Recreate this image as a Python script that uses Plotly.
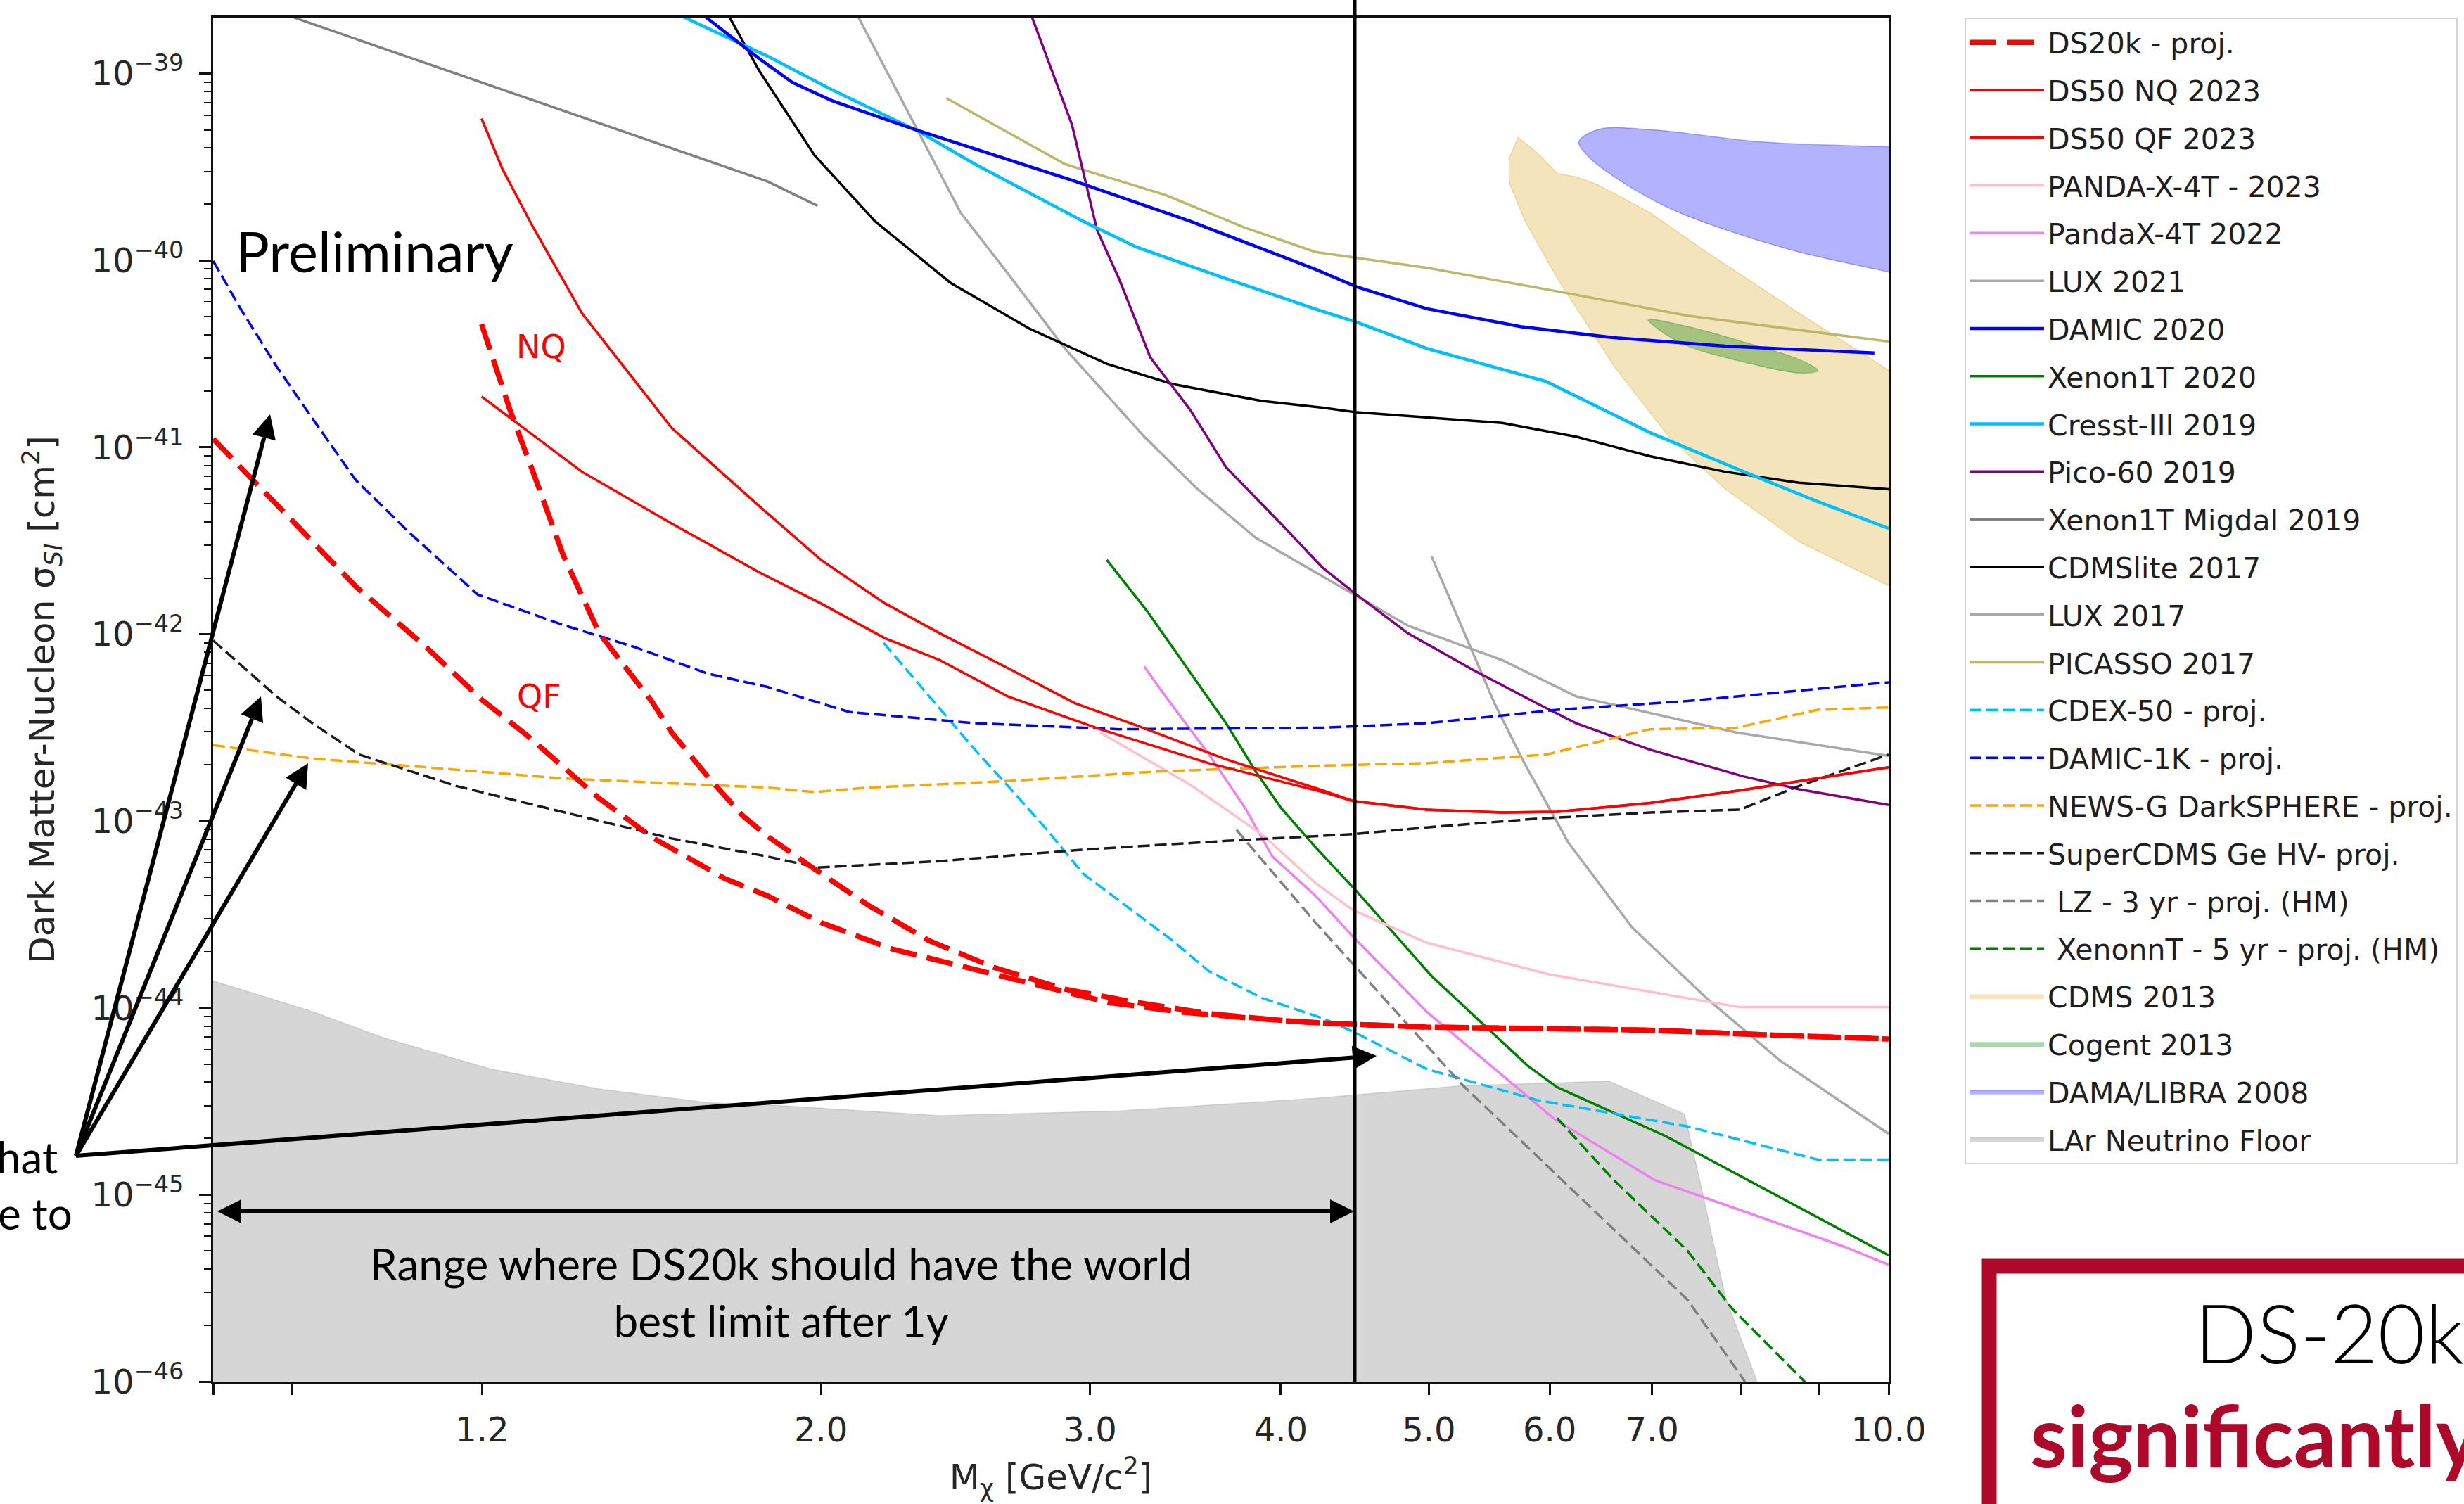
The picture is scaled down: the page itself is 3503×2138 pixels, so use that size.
import math
import plotly.graph_objects as go

# ------------------------------------------------------------------
# Spin-independent DM-nucleon limits, low-mass region
# masses in GeV/c^2, cross sections in cm^2
# ------------------------------------------------------------------

# DarkSide-20k projections (two quenching models)
ds20k_qf_mass = [0.80, 0.894, 0.992, 1.104, 1.199, 1.285, 1.432, 1.552, 1.730, 1.845, 2.0, 2.229,
                 2.486, 2.766, 3.083, 3.438, 3.824, 4.256, 4.986, 5.898, 6.977, 8.255, 10.0]
ds20k_qf_xs = [1.11e-41, 4.31e-42, 1.80e-42, 8.47e-43, 4.47e-43, 2.86e-43, 1.32e-43, 8.15e-44, 4.92e-44,
               3.98e-44, 2.86e-44, 2.06e-44, 1.65e-44, 1.32e-44, 1.07e-44, 9.51e-45, 8.81e-45, 8.30e-45,
               7.89e-45, 7.76e-45, 7.60e-45, 7.19e-45, 6.81e-45]
ds20k_nq_mass = [1.199, 1.252, 1.299, 1.356, 1.432, 1.549, 1.597, 1.686, 1.777, 1.845, 1.981, 2.147,
                 2.354, 2.594, 2.889, 3.218, 3.588, 4.0, 4.256, 4.986, 5.898, 6.977, 8.255, 10.0]
ds20k_nq_xs = [4.56e-41, 1.57e-41, 6.98e-42, 2.65e-42, 1.01e-42, 4.39e-43, 2.98e-43, 1.73e-43, 1.07e-43,
               8.30e-44, 5.53e-44, 3.55e-44, 2.29e-44, 1.65e-44, 1.26e-44, 1.07e-44, 9.33e-45, 8.57e-45,
               8.30e-45, 7.89e-45, 7.76e-45, 7.60e-45, 7.19e-45, 6.81e-45]

# DarkSide-50 2023
ds50_nq_mass = [1.199, 1.237, 1.294, 1.395, 1.597, 1.823, 2.0, 2.203, 2.393, 2.663, 2.935, 3.218, 3.683,
                4.260, 4.461, 4.986, 5.585, 6.067, 6.977, 8.04, 10.0]
ds50_nq_xs = [5.75e-40, 3.10e-40, 1.54e-40, 5.22e-41, 1.27e-41, 4.83e-42, 2.50e-42, 1.46e-42, 1.01e-42,
              6.46e-43, 4.26e-43, 3.25e-43, 2.14e-43, 1.46e-43, 1.28e-43, 1.15e-43, 1.11e-43, 1.12e-43,
              1.25e-43, 1.47e-43, 1.94e-43]
ds50_qf_mass = [1.199, 1.395, 1.597, 1.823, 2.0, 2.203, 2.393, 2.650, 3.047, 3.588, 4.260, 4.461, 4.986,
                5.585, 6.067, 6.977, 8.04, 10.0]
ds50_qf_xs = [1.87e-41, 7.40e-42, 3.91e-42, 2.14e-42, 1.46e-42, 9.51e-43, 7.26e-43, 4.65e-43, 3.10e-43,
              2.04e-43, 1.43e-43, 1.28e-43, 1.15e-43, 1.11e-43, 1.12e-43, 1.25e-43, 1.47e-43, 1.94e-43]

pandax23_mass = [3.047, 3.491, 3.889, 4.215, 4.461, 4.986, 5.998, 7.988, 10.0]
pandax23_xs = [2.98e-43, 1.56e-43, 8.47e-44, 4.65e-44, 3.34e-44, 2.23e-44, 1.51e-44, 1.01e-44, 1.01e-44]

pandax22_mass = [3.256, 3.362, 3.590, 3.789, 3.950, 4.215, 4.461, 4.986, 6.039, 7.025, 8.04, 9.359, 10.0]
pandax22_xs = [6.71e-43, 4.65e-43, 2.27e-43, 1.18e-43, 6.46e-44, 3.98e-44, 2.40e-44, 9.51e-45, 2.55e-45,
               1.20e-45, 8.15e-46, 5.26e-46, 4.22e-46]

lux21_mass = [5.021, 5.341, 5.521, 5.775, 6.17, 6.792, 7.598, 8.492, 10.0]
lux21_xs = [2.61e-42, 8.07e-43, 4.26e-43, 2.04e-43, 7.69e-44, 2.70e-44, 1.13e-44, 5.22e-45, 2.12e-45]

damic20_mass = [1.580, 1.674, 1.823, 1.916, 2.032, 2.305, 2.935, 3.491, 4.215, 4.483, 4.986, 5.741,
                6.607, 7.816, 9.788]
damic20_xs = [2.98e-39, 2.06e-39, 1.20e-39, 8.97e-40, 7.18e-40, 5.02e-40, 2.65e-40, 1.62e-40, 8.97e-41,
              7.24e-41, 5.52e-41, 4.43e-41, 3.86e-41, 3.48e-41, 3.20e-41]

xenon1t20_mass = [3.077, 3.272, 3.606, 3.683, 3.852, 4.0, 4.215, 4.483, 5.021, 5.801, 6.067, 7.145, 10.0]
xenon1t20_xs = [2.50e-42, 1.32e-42, 4.26e-43, 3.34e-43, 1.84e-43, 1.18e-43, 7.24e-44, 4.22e-44, 1.48e-44,
                4.92e-45, 3.76e-45, 2.06e-45, 4.74e-46]

cresst19_mass = [1.467, 1.639, 1.845, 2.032, 2.316, 2.522, 2.970, 3.218, 3.683, 4.215, 4.483, 4.986,
                 5.969, 6.977, 8.04, 8.989, 10.0]
cresst19_xs = [2.98e-39, 1.95e-39, 1.24e-39, 8.22e-40, 4.92e-40, 3.28e-40, 1.62e-40, 1.18e-40, 8.00e-41,
               5.50e-41, 4.68e-41, 3.38e-41, 2.25e-41, 1.20e-41, 7.40e-42, 5.12e-42, 3.68e-42]

pico60_mass = [2.70, 2.920, 3.032, 3.134, 3.286, 3.491, 3.683, 4.0, 4.26, 4.483, 4.846, 5.341, 5.887,
               6.243, 6.977, 8.04, 8.738, 10.0]
pico60_xs = [2.98e-39, 5.32e-40, 1.46e-40, 8.00e-41, 3.03e-41, 1.58e-41, 7.83e-42, 3.91e-42, 2.27e-42,
             1.63e-42, 1.01e-42, 6.46e-43, 4.26e-43, 3.34e-43, 2.41e-43, 1.73e-43, 1.48e-43, 1.22e-43]

migdal19_mass = [0.80, 0.894, 1.218, 1.845, 1.990]
migdal19_xs = [2.82e-39, 2.06e-39, 8.63e-40, 2.65e-40, 1.96e-40]

cdmslite17_mass = [1.696, 1.823, 1.981, 2.170, 2.431, 2.740, 3.077, 3.398, 3.889, 4.26, 4.483, 5.585,
                   6.243, 6.977, 7.816, 8.738, 10.0]
cdmslite17_xs = [2.98e-39, 1.03e-39, 3.65e-40, 1.62e-40, 7.60e-41, 4.31e-41, 2.80e-41, 2.18e-41, 1.77e-41,
                 1.63e-41, 1.54e-41, 1.35e-41, 1.14e-41, 8.97e-42, 7.40e-42, 6.46e-42, 5.97e-42]

lux17_mass = [2.063, 2.305, 2.469, 2.638, 2.889, 3.256, 3.529, 3.852, 4.215, 4.846, 5.585, 6.243, 7.949, 10.0]
lux17_xs = [2.98e-39, 5.32e-40, 1.80e-40, 8.97e-41, 3.38e-41, 1.14e-41, 5.97e-42, 3.28e-42, 2.14e-42,
            1.11e-42, 7.26e-43, 4.65e-43, 2.98e-43, 2.23e-43]

picasso17_mass = [2.416, 2.889, 3.362, 3.789, 4.215, 4.986, 6.067, 7.385, 10.0]
picasso17_xs = [7.40e-40, 3.28e-40, 2.24e-40, 1.50e-40, 1.11e-40, 9.14e-41, 6.84e-41, 5.07e-41, 3.68e-41]

cdex50_mass = [2.198, 2.377, 2.522, 2.663, 2.812, 2.970, 3.135, 3.398, 3.590, 3.889, 4.26, 4.461, 4.986,
               5.887, 7.385, 8.989, 10.0]
cdex50_xs = [8.99e-43, 4.26e-43, 2.41e-43, 1.48e-43, 8.97e-44, 5.22e-44, 3.76e-44, 2.29e-44, 1.57e-44,
             1.13e-44, 8.81e-45, 7.46e-45, 4.70e-45, 3.21e-45, 2.32e-45, 1.54e-45, 1.54e-45]

damic1k_mass = [0.80, 0.834, 0.880, 0.929, 0.992, 1.076, 1.192, 1.356, 1.512, 1.686, 1.845, 2.088, 2.522,
                3.135, 4.26, 4.986, 6.067, 7.385, 10.0]
damic1k_xs = [9.95e-41, 5.50e-41, 2.72e-41, 1.43e-41, 6.67e-42, 3.48e-42, 1.63e-42, 1.12e-42, 8.51e-43,
              6.15e-43, 5.22e-43, 3.83e-43, 3.34e-43, 3.10e-43, 3.16e-43, 3.34e-43, 3.94e-43, 4.39e-43,
              5.53e-43]

newsg_mass = [0.80, 0.929, 1.094, 1.356, 1.845, 1.981, 2.147, 2.663, 3.310, 4.26, 4.986, 5.969, 6.977,
              7.949, 8.989, 10.0]
newsg_xs = [2.55e-43, 2.16e-43, 1.95e-43, 1.69e-43, 1.51e-43, 1.43e-43, 1.51e-43, 1.64e-43, 1.84e-43,
            1.98e-43, 2.04e-43, 2.27e-43, 3.10e-43, 3.16e-43, 3.94e-43, 4.05e-43]

supercdms_mass = [0.80, 0.880, 0.929, 0.997, 1.154, 1.356, 1.597, 1.845, 1.990, 2.393, 2.970, 3.683,
                  4.461, 4.986, 5.887, 6.977, 7.988, 8.738, 10.0]
supercdms_xs = [9.25e-43, 4.65e-43, 3.34e-43, 2.27e-43, 1.54e-43, 1.12e-43, 8.07e-44, 6.46e-44, 5.64e-44,
                6.10e-44, 7.03e-44, 7.83e-44, 8.51e-44, 9.25e-44, 1.03e-43, 1.11e-43, 1.15e-43, 1.54e-43,
                2.27e-43]

lz_mass = [3.741, 4.215, 5.253, 6.243, 7.385, 8.04, 8.15]
lz_xs = [8.97e-44, 2.86e-44, 3.91e-45, 1.02e-45, 2.74e-46, 1.02e-46, 7.94e-47]

xenonnt_mass = [6.067, 6.607, 7.385, 7.901, 8.79, 9.05]
xenonnt_xs = [2.57e-45, 1.20e-45, 5.01e-46, 2.45e-46, 1.02e-46, 7.94e-47]

# signal regions (closed contours)
cdms13_mass = [5.64, 5.72, 5.89, 6.07, 6.24, 6.45, 6.98, 7.60, 8.74, 10.0, 10.6,
               10.6, 10.0, 8.74, 7.82, 7.18, 6.61, 6.07, 5.78, 5.64]
cdms13_xs = [3.47e-40, 4.56e-40, 3.76e-40, 2.92e-40, 2.81e-40, 2.55e-40, 1.80e-40, 1.11e-40, 5.22e-41,
             2.58e-41, 1.91e-41, 1.45e-42, 1.82e-42, 3.12e-42, 5.97e-42, 1.14e-41, 2.72e-41, 8.00e-41,
             1.63e-40, 2.65e-40]

cogent13_mass = [6.96, 7.39, 8.04, 8.74, 8.99, 8.74, 8.04, 7.39, 7.06, 6.96]
cogent13_xs = [4.81e-41, 4.43e-41, 3.66e-41, 2.95e-41, 2.58e-41, 2.50e-41, 2.86e-41, 3.48e-41, 4.31e-41,
               4.81e-41]

dama08_mass = [6.27, 6.45, 6.98, 8.26, 10.0, 10.6, 10.6, 10.0, 8.74, 7.82, 7.18, 6.61, 6.35, 6.27]
dama08_xs = [4.31e-40, 5.02e-40, 5.02e-40, 4.31e-40, 4.06e-40, 3.98e-40, 7.82e-41, 8.69e-41, 1.11e-40,
             1.46e-40, 1.91e-40, 2.81e-40, 3.65e-40, 4.31e-40]

lar_floor_mass = [0.79, 0.929, 1.036, 1.218, 1.432, 1.686, 1.845, 2.393, 3.135, 4.215, 5.246, 6.561,
                  7.352, 7.510, 7.816, 8.197, 8.30, 8.30, 0.79]
lar_floor_xs = [1.44e-44, 9.57e-45, 6.89e-45, 4.69e-45, 3.68e-45, 3.11e-45, 3.03e-45, 2.65e-45, 2.81e-45,
                3.28e-45, 3.83e-45, 4.05e-45, 2.70e-45, 1.27e-45, 2.86e-46, 1.01e-46, 6.31e-47,
                5.0e-47, 5.0e-47]

# axis ticks
x_tick_vals = [1.2, 2.0, 3.0, 4.0, 5.0, 6.0, 7.0, 10.0]
x_tick_text = ["1.2", "2.0", "3.0", "4.0", "5.0", "6.0", "7.0", "10.0"]
x_unlabelled_ticks = [0.8, 0.9, 8.0, 9.0]
y_decades = [-46, -45, -44, -43, -42, -41, -40, -39]

# ------------------------------------------------------------------
W, H = 3503, 2138
L, R, T, B = 303, 818, 25, 174
PW, PH = W - L - R, H - T - B


def pxx(px):
    return (px - L) / PW


def pxy(py):
    return (H - B - py) / PH


fig = go.Figure()


def region(xs, ys, name, rank, fill, edge, spline=False):
    fig.add_trace(go.Scatter(
        x=xs, y=ys, name=name, mode="lines", fill="toself", fillcolor=fill,
        line=dict(color=edge, width=1.5, shape="spline" if spline else "linear"),
        legendgroup=name, legendrank=rank, hoverinfo="skip"))


def curve(xs, ys, name, rank, color, width=3.5, dash="solid", show=True, group=None):
    fig.add_trace(go.Scatter(
        x=xs, y=ys, name=name, mode="lines",
        line=dict(color=color, width=width, dash=dash),
        legendgroup=group or name, legendrank=rank, showlegend=show, hoverinfo="skip"))


region(lar_floor_mass, lar_floor_xs, "LAr Neutrino Floor", 24,
       "rgba(128,128,128,0.32)", "rgba(128,128,128,0.25)")
region(cdms13_mass, cdms13_xs, "CDMS 2013", 21, "rgba(218,165,32,0.3)", "rgba(218,165,32,0.35)")
region(cogent13_mass, cogent13_xs, "Cogent 2013", 22, "rgba(0,128,0,0.32)", "rgba(0,128,0,0.3)",
       spline=True)
region(dama08_mass, dama08_xs, "DAMA/LIBRA 2008", 23, "rgba(0,0,255,0.3)", "rgba(0,0,255,0.3)",
       spline=True)

THIN_DASH = "17px,7px"
curve(migdal19_mass, migdal19_xs, "Xenon1T Migdal 2019", 11, "#808080")
curve(lux17_mass, lux17_xs, "LUX 2017", 13, "#a9a9a9")
curve(lux21_mass, lux21_xs, "LUX 2021", 6, "#a9a9a9")
curve(picasso17_mass, picasso17_xs, "PICASSO 2017", 14, "#bdb76b")
curve(cdmslite17_mass, cdmslite17_xs, "CDMSlite 2017", 12, "#000000")
curve(pico60_mass, pico60_xs, "Pico-60 2019", 10, "#800080")
curve(cresst19_mass, cresst19_xs, "Cresst-III 2019", 9, "#00bfff", 4.5)
curve(damic20_mass, damic20_xs, "DAMIC 2020", 7, "#0000ff", 4.5)
curve(xenon1t20_mass, xenon1t20_xs, "Xenon1T 2020", 8, "#008000")
curve(pandax22_mass, pandax22_xs, "PandaX-4T 2022", 5, "#ee82ee")
curve(pandax23_mass, pandax23_xs, "PANDA-X-4T - 2023", 4, "#ffc0cb")
curve(cdex50_mass, cdex50_xs, "CDEX-50 - proj.", 15, "#00bfff", 3.5, THIN_DASH)
curve(damic1k_mass, damic1k_xs, "DAMIC-1K - proj.", 16, "#0000ff", 3.5, THIN_DASH)
curve(newsg_mass, newsg_xs, "NEWS-G DarkSPHERE - proj.", 17, "#ffa500", 3.5, THIN_DASH)
curve(supercdms_mass, supercdms_xs, "SuperCDMS Ge HV- proj.", 18, "#1a1a1a", 3.5, THIN_DASH)
curve(lz_mass, lz_xs, " LZ - 3 yr - proj. (HM)", 19, "#808080", 3.5, THIN_DASH)
curve(xenonnt_mass, xenonnt_xs, " XenonnT - 5 yr - proj. (HM)", 20, "#008000", 3.5, THIN_DASH)
curve(ds50_nq_mass, ds50_nq_xs, "DS50 NQ 2023", 2, "#ff0000")
curve(ds50_qf_mass, ds50_qf_xs, "DS50 QF 2023", 3, "#ff0000")
curve(ds20k_qf_mass, ds20k_qf_xs, "DS20k - proj.", 1, "#ff0000", 7.5, "38px,15px", group="ds20k")
curve(ds20k_nq_mass, ds20k_nq_xs, "DS20k - proj.", 1, "#ff0000", 7.5, "38px,15px", show=False,
      group="ds20k")

# ------------------------------------------------------------------
TICK_FONT = dict(family="DejaVu Sans", size=48, color="#262626")
TITLE_FONT = dict(family="DejaVu Sans", size=50, color="#262626")
y_minor = [m * 10.0 ** d for d in y_decades for m in range(2, 10)]

fig.update_xaxes(
    type="log", range=[math.log10(0.8), 1.0],
    tickmode="array", tickvals=x_tick_vals, ticktext=x_tick_text,
    ticks="outside", ticklen=16, tickwidth=2.5, tickcolor="#111",
    ticklabelstandoff=8, tickfont=TICK_FONT,
    minor=dict(tickmode="array", tickvals=x_unlabelled_ticks, ticks="outside", ticklen=16,
               tickwidth=2.5, tickcolor="#111", showgrid=False),
    showline=True, linecolor="#111", linewidth=3, mirror=True, showgrid=False, zeroline=False,
    title=dict(text="M<sub>χ</sub> [GeV/c<sup>2</sup>]", font=TITLE_FONT, standoff=24),
)
fig.update_yaxes(
    type="log", range=[-46.0, -38.70],
    tickmode="array", tickvals=[10.0 ** d for d in y_decades],
    ticktext=[f"10<sup>−{abs(d)}</sup>" for d in y_decades],
    ticks="outside", ticklen=17, tickwidth=2.5, tickcolor="#111",
    ticklabelstandoff=12, tickfont=TICK_FONT,
    minor=dict(tickmode="array", tickvals=y_minor, ticks="outside", ticklen=10, tickwidth=2,
               tickcolor="#111", showgrid=False),
    showline=True, linecolor="#111", linewidth=3, mirror=True, showgrid=False, zeroline=False,
    title=dict(text="Dark Matter-Nucleon σ<sub><i>SI</i></sub> [cm<sup>2</sup>]",
               font=TITLE_FONT, standoff=36),
)

# ------------------------------------------------------------------
# slide overlays: marker line, arrows, captions
DARK_RED = "#ae082a"
shapes = [
    dict(type="line", xref="paper", yref="paper", x0=pxx(1926), x1=pxx(1926), y0=0, y1=pxy(0),
         line=dict(color="black", width=5), layer="above"),
    dict(type="rect", xref="paper", yref="paper", x0=pxx(2828), y0=pxy(1800), x1=pxx(3700),
         y1=pxy(2400), line=dict(color=DARK_RED, width=21), fillcolor="rgba(0,0,0,0)"),
]


def add_arrow(tail, tip, head_len=34, head_half=17, width=6):
    dx, dy = tip[0] - tail[0], tip[1] - tail[1]
    n = math.hypot(dx, dy)
    ux, uy = dx / n, dy / n
    bx, by = tip[0] - ux * head_len, tip[1] - uy * head_len
    shapes.append(dict(type="line", xref="paper", yref="paper",
                       x0=pxx(tail[0]), y0=pxy(tail[1]), x1=pxx(bx), y1=pxy(by),
                       line=dict(color="black", width=width), layer="above"))
    p1 = (bx - uy * head_half, by + ux * head_half)
    p2 = (bx + uy * head_half, by - ux * head_half)
    path = (f"M{pxx(tip[0])},{pxy(tip[1])} L{pxx(p1[0])},{pxy(p1[1])} "
            f"L{pxx(p2[0])},{pxy(p2[1])} Z")
    shapes.append(dict(type="path", xref="paper", yref="paper", path=path,
                       fillcolor="black", line=dict(width=0), layer="above"))


vertex = (108, 1643)
for tip in [(384, 589), (371, 990), (438, 1085), (1957, 1501)]:
    add_arrow(vertex, tip)
# double-headed range arrow
mid = ((309 + 1925) / 2, 1722)
add_arrow(mid, (1925, 1722))
add_arrow(mid, (309, 1722))

LATO = "Lato, 'Open Sans', sans-serif"
annotations = [
    dict(xref="paper", yref="paper", x=pxx(333), y=pxy(356), xanchor="left", yanchor="middle",
         text="Preliminary", showarrow=False, font=dict(family=LATO, size=80, color="black")),
    dict(xref="paper", yref="paper", x=pxx(769), y=pxy(493), xanchor="center", yanchor="middle",
         text="NQ", showarrow=False, font=dict(family="DejaVu Sans", size=46, color="#ff0000")),
    dict(xref="paper", yref="paper", x=pxx(766), y=pxy(990), xanchor="center", yanchor="middle",
         text="QF", showarrow=False, font=dict(family="DejaVu Sans", size=46, color="#ff0000")),
    dict(xref="paper", yref="paper", x=pxx(1110), y=pxy(1836), xanchor="center", yanchor="middle",
         text="Range where DS20k should have the world<br>best limit after 1y", showarrow=False,
         align="center", font=dict(family=LATO, size=62, color="black")),
    dict(xref="paper", yref="paper", x=pxx(84), y=pxy(1644), xanchor="right", yanchor="middle",
         text="hat", showarrow=False, font=dict(family=LATO, size=62, color="black")),
    dict(xref="paper", yref="paper", x=pxx(105), y=pxy(1724), xanchor="right", yanchor="middle",
         text="e to", showarrow=False, font=dict(family=LATO, size=62, color="black")),
    dict(xref="paper", yref="paper", x=pxx(3118), y=pxy(1893), xanchor="left", yanchor="middle",
         text="DS-20k", showarrow=False,
         font=dict(family=LATO, size=116, color="black", weight=300)),
    dict(xref="paper", yref="paper", x=pxx(2884), y=pxy(2040), xanchor="left", yanchor="middle",
         text="significantly", showarrow=False,
         font=dict(family=LATO, size=120, color=DARK_RED, weight="bold")),
]

fig.update_layout(
    width=W, height=H,
    margin=dict(l=L, r=R, t=T, b=B, autoexpand=False),
    paper_bgcolor="white", plot_bgcolor="white",
    shapes=shapes, annotations=annotations,
    legend=dict(x=pxx(2793), y=1.0, xanchor="left", yanchor="top",
                traceorder="grouped", tracegroupgap=11.5, itemwidth=106,
                font=dict(family="DejaVu Sans", size=41, color="#1e1e1e"),
                bgcolor="white", bordercolor="#d4d4d4", borderwidth=2),
    showlegend=True,
)

fig.write_html("out.html")
